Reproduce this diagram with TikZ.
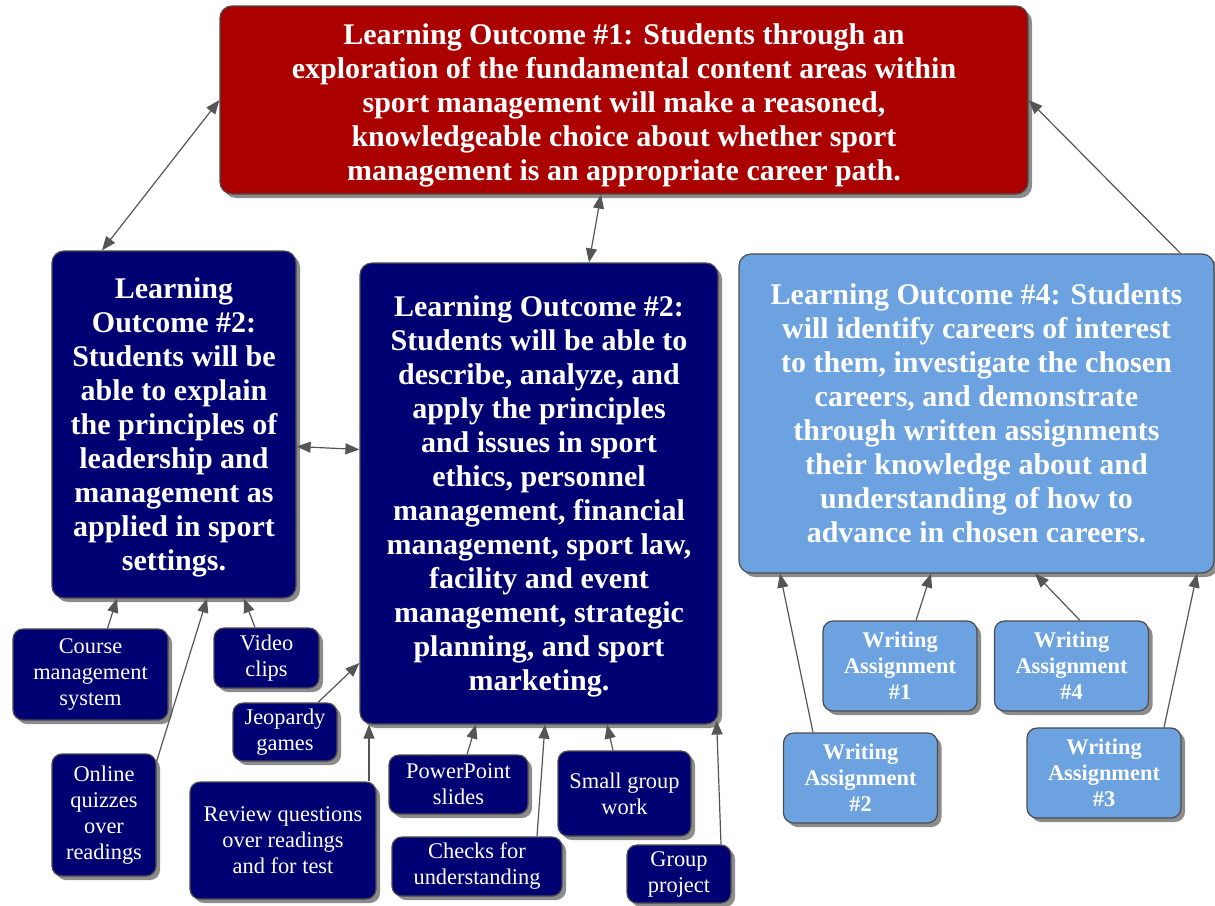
\documentclass[tikz,border=0pt]{standalone}
\usepackage{fontspec}
\setmainfont{Liberation Serif}
\usetikzlibrary{shadows,arrows.meta}

\definecolor{outred}{HTML}{AA0000}
\definecolor{outnavy}{HTML}{000072}
\definecolor{outblue}{HTML}{6CA2E0}
\definecolor{linkgray}{HTML}{555555}

\begin{document}
\begin{tikzpicture}[x=0.5pt, y=-0.5pt,
    box/.style={draw=black!70, line width=0.6pt, rounded corners=6pt, text=white,
      align=center, inner sep=0pt,
      drop shadow={shadow xshift=2pt, shadow yshift=-2pt, fill=black!45, opacity=1}},
    outcome/.style={box, font=\fontsize{15}{17}\selectfont\bfseries},
    activity/.style={box, rounded corners=5pt, fill=outnavy, font=\fontsize{11.2}{13}\selectfont},
    writing/.style={box, rounded corners=5pt, fill=outblue,
      minimum width=77pt, minimum height=45pt, font=\fontsize{11.2}{13}\selectfont\bfseries},
    link/.style={draw=linkgray, line width=0.6pt, -{Triangle[length=7pt,width=5.5pt]}},
    both/.style={link, {Triangle[length=7pt,width=5.5pt]}-{Triangle[length=7pt,width=5.5pt]}}]
\useasboundingbox (0,0) rectangle (1215,905);

% outcomes
\node[outcome, fill=outred, minimum width=404pt, minimum height=94pt] (lo1) at (624,100)
  {\rule{0pt}{15.5pt}Learning Outcome \#1: Students through an\\
   exploration of the fundamental content areas within\\
   sport management will make a reasoned,\\
   knowledgeable choice about whether sport\\
   management is an appropriate career path.};
\node[outcome, fill=outnavy, minimum width=122pt, minimum height=173.5pt] (lo2l) at (174,424.5)
  {\rule{0pt}{13.5pt}Learning\\ Outcome \#2:\\ Students will be\\ able to explain\\ the principles of\\
   leadership and\\ management as\\ applied in sport\\ settings.};
\node[outcome, fill=outnavy, minimum width=179pt, minimum height=230.5pt] (lo2c) at (539,493.5)
  {\rule{0pt}{13.5pt}Learning Outcome \#2:\\ Students will be able to\\ describe, analyze, and\\
   apply the principles\\ and issues in sport\\ ethics, personnel\\
   management, financial\\ management, sport law,\\ facility and event\\
   management, strategic\\ planning, and sport\\ marketing.};
\node[outcome, fill=outblue, minimum width=237.5pt, minimum height=159.5pt] (lo4) at (976.5,413.5)
  {Learning Outcome \#4: Students\\ will identify careers of interest\\
   to them, investigate the chosen\\ careers, and demonstrate\\
   through written assignments\\ their knowledge about and\\
   understanding of how to\\ advance in chosen careers.};

% activities
\node[activity, minimum width=77.5pt, minimum height=45.5pt] (cms) at (90.5,674.5) {Course\\ management\\ system};
\node[activity, minimum width=52.5pt, minimum height=30pt] (video) at (266.5,658) {Video\\ clips};
\node[activity, minimum width=52pt, minimum height=29pt] (jeopardy) at (285,732) {Jeopardy\\ games};
\node[activity, minimum width=52pt, minimum height=61pt] (quiz) at (104,815) {Online\\ quizzes\\ over\\ readings};
\node[activity, minimum width=93pt, minimum height=58.5pt] (review) at (283,840.5) {Review questions\\ over readings\\ and for test};
\node[activity, minimum width=69.5pt, minimum height=29.5pt] (ppt) at (458.5,784.5) {PowerPoint\\ slides};
\node[activity, minimum width=85pt, minimum height=29.5pt] (checks) at (477,866.5) {Checks for\\ understanding};
\node[activity, minimum width=66.5pt, minimum height=42.5pt] (smallgroup) at (624.5,793.5) {Small group\\ work};
\node[activity, minimum width=52pt, minimum height=29pt] (project) at (679,874) {Group\\ project};

% writing assignments
\node[writing] (w1) at (900,666) {Writing\\ Assignment\\ \#1};
\node[writing] (w4) at (1071.5,666) {Writing\\ Assignment\\ \#4};
\node[writing] (w2) at (860.5,778) {Writing\\ Assignment\\ \#2};
\node[writing] (w3) at (1104,773) {Writing\\ Assignment\\ \#3};

% links between outcomes
\draw[both] (lo1.west) -- ([xshift=-36pt]lo2l.north);
\draw[both] ([xshift=-11.5pt]lo1.south) -- ([xshift=25pt]lo2c.north);
\draw[both] ([yshift=-11pt]lo2l.east) -- ([yshift=22pt]lo2c.west);
\draw[link] ([xshift=102pt]lo4.north) -- (lo1.east);

% activities to outcomes
\draw[link] ([xshift=8.5pt]cms.north) -- ([xshift=-28.5pt]lo2l.south);
\draw[link] ([yshift=-4pt]quiz.north east) -- ([xshift=16.5pt]lo2l.south);
\draw[link] ([xshift=-5.75pt]video.north) -- ([xshift=35pt]lo2l.south);
\draw[link] ([xshift=16.5pt]jeopardy.north) -- ([yshift=-84.75pt]lo2c.west);
\draw[link] ([xshift=43pt]review.north) -- ([xshift=-85pt]lo2c.south);
\draw[link] ([xshift=4.25pt]ppt.north) -- ([xshift=-31.5pt]lo2c.south);
\draw[link] ([xshift=30pt]checks.north) -- ([xshift=3pt]lo2c.south);
\draw[link] ([xshift=-5.75pt]smallgroup.north) -- ([xshift=34pt]lo2c.south);
\draw[link] ([xshift=21pt]project.north) -- ([xshift=-1pt,yshift=2pt]lo2c.south east);

% writing to outcome 4
\draw[link] ([xshift=-23.75pt]w2.north) -- ([xshift=-98.25pt]lo4.south);
\draw[link] ([xshift=8pt]w1.north) -- ([xshift=-22.75pt]lo4.south);
\draw[link] ([xshift=4.25pt]w4.north) -- ([xshift=29.25pt]lo4.south);
\draw[link] ([xshift=30pt]w3.north) -- ([xshift=110.25pt]lo4.south);
\end{tikzpicture}
\end{document}
